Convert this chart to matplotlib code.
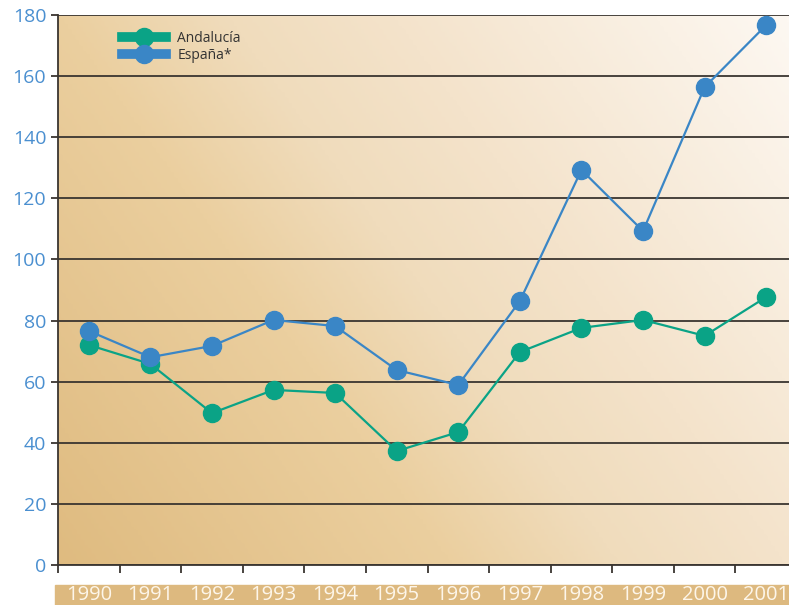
import numpy as np
import matplotlib
matplotlib.use("Agg")
import matplotlib.pyplot as plt
from matplotlib.lines import Line2D
from matplotlib.patches import Rectangle
from matplotlib.colors import LinearSegmentedColormap

plt.rcParams['font.family'] = ['Open Sans', 'DejaVu Sans']

years = ['1990', '1991', '1992', '1993', '1994', '1995',
         '1996', '1997', '1998', '1999', '2000', '2001']
andalucia = [72, 65.8, 49.7, 57.3, 56.3, 37.3, 43.5, 69.7, 77.6, 80.2, 75, 87.7]
espana = [76.6, 68, 71.7, 80.2, 78.2, 63.8, 58.9, 86.4, 129.3, 109.3, 156.4, 176.7]

green = '#0aa386'
blue = '#3a86c6'
tan = '#ddb97f'

fig = plt.figure(figsize=(7.89, 6.05), dpi=100)
ax = fig.add_axes([58/789, 40/605, 1 - 58/789, 550/605])

# gradient background, tan bottom-left to near white top-right
gx, gy = np.meshgrid(np.linspace(0, 1, 200), np.linspace(0, 1, 200))
g = 0.65 * (1 - gx) + 0.35 * gy
cmap = LinearSegmentedColormap.from_list(
    'bg', [(0, '#fdf8f2'), (0.35, '#f4e3cb'), (0.5, '#f0dcbc'),
           (0.65, '#ebcf9f'), (1, '#dfbb80')])
ax.imshow(g, cmap=cmap, extent=[0, 1, 0, 1], transform=ax.transAxes,
          aspect='auto', zorder=0, origin='upper', vmin=0, vmax=1)

x = np.arange(len(years)) + 0.5
ax.plot(x, andalucia, color=green, lw=1.6, marker='o', ms=13, zorder=3)
ax.plot(x, espana, color=blue, lw=1.6, marker='o', ms=13, zorder=3)

ax.set_xlim(0, 11.87)
ax.set_ylim(0, 180)
ax.set_yticks(range(0, 181, 20))
ax.yaxis.grid(True, color='#3a3530', lw=1.3)
ax.set_axisbelow(True)
ax.tick_params(axis='y', colors='#3a3530', labelcolor='#4a8fd0', labelsize=14,
               length=5, width=1.3)
for s in ['top', 'right']:
    ax.spines[s].set_visible(False)
ax.spines['left'].set_color('#3a3530')
ax.spines['bottom'].set_color('#3a3530')
ax.spines['left'].set_linewidth(1.3)
ax.spines['bottom'].set_linewidth(1.3)

ax.set_xticks(range(0, 12))
ax.set_xticklabels([])
ax.tick_params(axis='x', which='major', length=6, width=1.3, color='#3a3530')
ax.set_xticks(x, minor=True)
ax.set_xticklabels(years, minor=True)
ax.tick_params(axis='x', which='minor', length=0, pad=14.5, labelsize=14.5,
               labelcolor='#fdf6ea')

band = Rectangle((55/789, 0), 1 - 55/789, 20/605,
                 transform=fig.transFigure, color=tan, zorder=-1)
fig.patches.append(band)

handles = [Line2D([], [], color=green, lw=7, marker='o', ms=13),
           Line2D([], [], color=blue, lw=7, marker='o', ms=13)]
ax.legend(handles, ['Andalucía', 'España*'], loc='upper left',
          bbox_to_anchor=(0.07, 0.993), frameon=False, fontsize=10,
          handlelength=3.2, labelspacing=0.1, handletextpad=0.8,
          labelcolor='#333333')

fig.savefig('out.png', dpi=100)
